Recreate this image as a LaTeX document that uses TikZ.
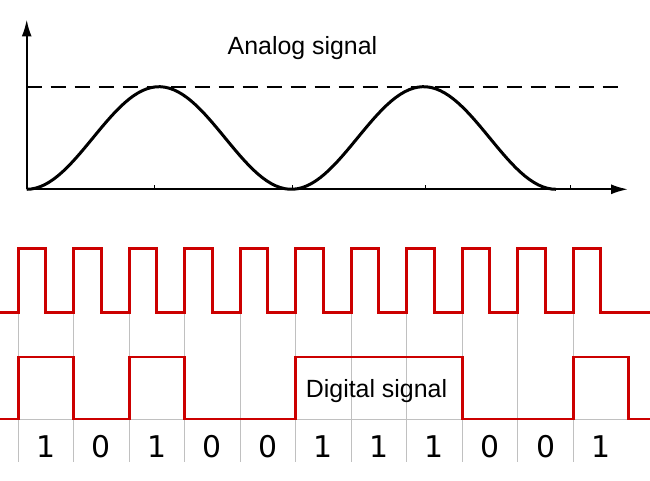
\documentclass[tikz,border=0pt]{standalone}
\usepackage{fontspec}
\setmainfont{Liberation Sans}
\newfontfamily\digitfont{DejaVu Sans}
\usetikzlibrary{arrows.meta}
\definecolor{sigred}{RGB}{204,0,0}
\definecolor{gridgray}{RGB}{192,192,192}
\tikzset{
  axisline/.style={black,line width=2bp},
  analogline/.style={black,line width=3bp},
  digiline/.style={sigred,line width=2.8bp,line join=miter},
  gridline/.style={gridgray,line width=0.9bp},
  bitlabel/.style={font=\digitfont\fontsize{30}{30}\selectfont,inner sep=0pt},
  caption/.style={font=\fontsize{25}{25}\selectfont,inner sep=0pt,anchor=base},
}
\begin{document}
\begin{tikzpicture}[x=1bp,y=1bp,>={Latex[length=17bp,width=10bp]},line join=bevel]
\useasboundingbox (0,0) rectangle (650,481);
%% analog part
\draw [axisline,->] (26.7,291.7) -- (26.7,461.5);
\draw [axisline,->] (26.7,291.7) -- (628,291.7);
\draw [black,line width=1.8bp,dash pattern=on 15bp off 9bp] (26.7,394.3) -- (621,394.3);
\foreach \tx in {154,292,425,570}
  \draw [black,line width=1bp] (\tx,291.7) -- (\tx,295.5);
\draw [analogline,domain=26.7:556,samples=120]
  plot (\x,{291.7+51.3*(1-cos(1.36054*(\x-26.7)))});
\node (analog_label) at (302.5,426.7) [caption] {Analog signal};
%% digital part
\foreach \k in {0,...,10}
  \draw [gridline] (18.3+55.5*\k,168.3) -- (18.3+55.5*\k,19);
\draw [gridline] (0,62) -- (650,62);
% clock
\draw [digiline] (0,168.3)
  \foreach \k in {0,...,10} {
    -- (18.3+55.5*\k,168.3) -- (18.3+55.5*\k,232.7)
    -- (45.8+55.5*\k,232.7) -- (45.8+55.5*\k,168.3)}
  -- (650,168.3);
% data 1 0 1 0 0 1 1 1 0 0 1
\draw [digiline] (0,62) -- (18.3,62) -- (18.3,124) -- (73.8,124) -- (73.8,62)
  -- (129.3,62) -- (129.3,124) -- (184.8,124) -- (184.8,62)
  -- (295.8,62) -- (295.8,124) -- (462.3,124) -- (462.3,62)
  -- (573.3,62) -- (573.3,124) -- (628.8,124) -- (628.8,62) -- (650,62);
\node (digital_label) at (376.5,83.7) [caption] {Digital signal};
%
\foreach \b [count=\i from 0] in {1,0,1,0,0,1,1,1,0,0,1}
  \node (bit_\i) at (46+55.5*\i,34.5) [bitlabel] {\b};
\end{tikzpicture}
\end{document}
